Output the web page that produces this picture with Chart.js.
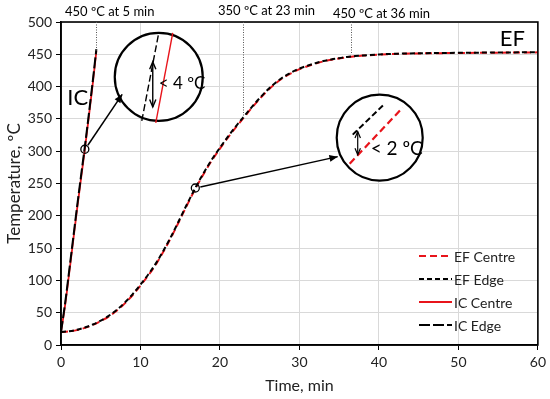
<!DOCTYPE html>
<html>
<head>
<meta charset="utf-8">
<script src="https://cdn.jsdelivr.net/npm/chart.js@4/dist/chart.umd.min.js"></script>
<style>
html,body{margin:0;padding:0;background:#fff;}
#wrap{width:550px;height:399px;}
</style>
</head>
<body>
<div id="wrap"><canvas id="c" width="550" height="399"></canvas></div>
<script>
// ---- data ----
const efTime    = [0, 1, 2, 3, 4, 5, 6, 7, 8, 9, 10, 11, 12, 13, 14, 15, 16, 17, 18, 19, 20, 21, 22, 23, 24, 25, 26, 27, 28, 29, 30, 31, 32, 33, 34, 35, 36, 37, 38, 40, 42, 45, 50, 55, 60];
const efCentre  = [20, 21, 23, 26.5, 31, 37, 44, 53, 64, 77, 92, 108, 126, 147, 170, 195, 220, 244, 266, 286, 304, 321, 337, 352, 367, 381, 394, 405, 414, 421, 427, 431.5, 435.5, 439, 441.5, 443.5, 445.5, 447, 448, 449.5, 450.5, 451.3, 452, 452.5, 453];
const efEdge    = [20, 21.3, 23.5, 27, 31.7, 37.8, 45, 54.2, 65.3, 78.5, 93.5, 109.5, 127.5, 148.5, 171.5, 196.5, 221.5, 245.5, 267.5, 287.5, 305.5, 322.5, 338.5, 353.5, 368.3, 382.2, 395, 406, 415, 422, 428, 432.3, 436.2, 439.6, 442, 444, 445.9, 447.3, 448.3, 449.8, 450.8, 451.6, 452.3, 452.8, 453.2];
const icTime    = [0, 0.5, 1, 1.5, 2, 2.5, 3, 3.5, 4, 4.45];
const icCentre  = [20, 60, 108, 158, 208, 256, 303, 353, 405, 455];
const icEdge    = [20, 63, 112, 162, 212, 260, 307, 357, 409, 458];
const markTime  = [3, 16.9];
const markTemp  = [303, 243];
const xTicks    = [0, 10, 20, 30, 40, 50, 60];
const yTicks    = [0, 50, 100, 150, 200, 250, 300, 350, 400, 450, 500];
const legendLabels = ['EF Centre', 'EF Edge', 'IC Centre', 'IC Edge'];
const refTimes  = [4.45, 22.9, 36.5];
const refTemps  = [455, 350, 450];
const refLabels = ['450 ºC at 5 min', '350 ºC at 23 min', '450 ºC at 36 min'];

const pts = (xs, ys) => xs.map((x, i) => ({x: x, y: ys[i]}));
const FONT = 'Lato, "Open Sans", sans-serif';

const datasets = [
  {label: legendLabels[0], data: pts(efTime, efCentre), borderColor: '#e8141b', borderWidth: 2, borderDash: [7, 4], order: 2},
  {label: legendLabels[1], data: pts(efTime, efEdge), borderColor: '#000', borderWidth: 2, borderDash: [5, 3], order: 1},
  {label: legendLabels[2], data: pts(icTime, icCentre), borderColor: '#e8141b', borderWidth: 1.8, borderDash: [], order: 2},
  {label: legendLabels[3], data: pts(icTime, icEdge), borderColor: '#000', borderWidth: 2, borderDash: [11, 3], order: 1},
  {label: 'marks', data: pts(markTime, markTemp), showLine: false, pointRadius: 4, pointStyle: 'circle',
   pointBorderColor: '#000', pointBackgroundColor: 'rgba(255,255,255,0)', pointBorderWidth: 1.3, order: 0}
];
datasets.forEach((d, i) => { if (i < 4) { d.pointRadius = 0; d.fill = false; d.cubicInterpolationMode = 'monotone'; } });

const deco = {
  id: 'deco',
  afterDatasetsDraw(chart) {
    const ctx = chart.ctx, xs = chart.scales.x, ys = chart.scales.y, a = chart.chartArea;
    const X = v => xs.getPixelForValue(v), Y = v => ys.getPixelForValue(v);
    ctx.save();
    // frame
    ctx.strokeStyle = '#000'; ctx.lineWidth = 1.6;
    ctx.strokeRect(a.left, a.top, a.right - a.left, a.bottom - a.top);
    // reference dotted lines & labels
    ctx.strokeStyle = '#555'; ctx.lineWidth = 1; ctx.setLineDash([1, 1.5]);
    refTimes.forEach((t, i) => {
      ctx.beginPath(); ctx.moveTo(Math.round(X(t)) + 0.5, a.top); ctx.lineTo(Math.round(X(t)) + 0.5, Y(refTemps[i])); ctx.stroke();
    });
    ctx.setLineDash([]);
    ctx.fillStyle = '#000'; ctx.font = '13px ' + FONT; ctx.textBaseline = 'middle'; ctx.textAlign = 'left';
    ctx.fillText(refLabels[0], 65, 12);
    ctx.fillText(refLabels[1], 218, 11);
    ctx.fillText(refLabels[2], 333, 14);
    // IC / EF labels
    ctx.font = '22px ' + FONT;
    ctx.fillText('IC', X(0.8), Y(382));
    ctx.fillText('EF', X(55.2), Y(474));
    // magnifier circles
    const circ = (t, v, r) => {
      ctx.beginPath(); ctx.arc(X(t), Y(v), r, 0, Math.PI * 2);
      ctx.fillStyle = '#fff'; ctx.fill();
      ctx.strokeStyle = '#000'; ctx.lineWidth = 2.2; ctx.stroke();
    };
    const seg = (x1, y1, x2, y2, color, w, dash) => {
      ctx.beginPath(); ctx.setLineDash(dash); ctx.strokeStyle = color; ctx.lineWidth = w;
      ctx.moveTo(x1, y1); ctx.lineTo(x2, y2); ctx.stroke(); ctx.setLineDash([]);
    };
    const head = (x1, y1, x2, y2, len, open) => {
      const ang = Math.atan2(y2 - y1, x2 - x1);
      ctx.beginPath();
      ctx.moveTo(x2 - len * Math.cos(ang - 0.4), y2 - len * Math.sin(ang - 0.4));
      ctx.lineTo(x2, y2);
      ctx.lineTo(x2 - len * Math.cos(ang + 0.4), y2 - len * Math.sin(ang + 0.4));
      if (!open) { ctx.closePath(); ctx.fillStyle = '#000'; ctx.fill(); } else { ctx.stroke(); }
    };
    // circle 1
    const c1x = X(12.3), c1y = Y(415);
    circ(12.3, 415, 44);
    seg(c1x - 17, c1y + 44, c1x + 0, c1y - 44, '#000', 1.4, [7, 3]);
    seg(c1x - 3, c1y + 46, c1x + 14, c1y - 44, '#e8141b', 1.4, []);
    ctx.strokeStyle = '#000'; ctx.lineWidth = 1.4;
    seg(c1x - 6, c1y - 15, c1x - 6, c1y + 30, '#000', 1.4, []);
    head(c1x - 6, c1y + 30, c1x - 6, c1y - 15, 8, true);
    head(c1x - 6, c1y - 15, c1x - 6, c1y + 30, 8, true);
    ctx.fillStyle = '#000'; ctx.font = '17px ' + FONT; ctx.textAlign = 'left'; ctx.textBaseline = 'middle';
    ctx.fillText('< 4 ºC', c1x, c1y + 7);
    // circle 2
    const c2x = X(40.1), c2y = Y(321);
    circ(40.1, 321, 43);
    seg(c2x - 27, c2y - 3, c2x + 4, c2y - 33, '#000', 2, [6, 3]);
    seg(c2x - 30, c2y + 26, c2x + 23, c2y - 30, '#e8141b', 2.2, [7, 4]);
    ctx.strokeStyle = '#000'; ctx.lineWidth = 1.2;
    seg(c2x - 22, c2y - 6, c2x - 22, c2y + 17, '#000', 1.2, []);
    head(c2x - 22, c2y + 17, c2x - 22, c2y - 6, 7, true);
    head(c2x - 22, c2y - 6, c2x - 22, c2y + 17, 7, true);
    ctx.fillStyle = '#000'; ctx.font = '19px ' + FONT;
    ctx.fillText('< 2 ºC', c2x - 9, c2y + 11);
    // arrows
    const ax1 = X(markTime[0]) + 3, ay1 = Y(markTemp[0]) - 4;
    seg(ax1, ay1, X(7.7), Y(388), '#000', 1.5, []);
    head(ax1, ay1, X(7.7), Y(388), 9, false);
    const ax2 = X(markTime[1]) + 5, ay2 = Y(markTemp[1]) - 1;
    seg(ax2, ay2, c2x - 42, c2y + 19, '#000', 1.5, []);
    head(ax2, ay2, c2x - 42, c2y + 19, 9, false);
    // legend
    const lx = 419, lw = 33;
    const ly = [256, 279, 302, 325];
    ctx.font = '14px ' + FONT; ctx.textBaseline = 'middle';
    for (let i = 0; i < 4; i++) {
      const d = chart.data.datasets[i];
      seg(lx, ly[i], lx + lw, ly[i], d.borderColor, 2, d.borderDash);
      ctx.fillStyle = '#222';
      ctx.fillText(d.label, lx + lw + 2, ly[i] + 1);
    }
    ctx.restore();
  }
};

new Chart(document.getElementById('c'), {
  type: 'line',
  data: {datasets: datasets},
  options: {
    responsive: false,
    animation: false,
    layout: {padding: {top: 22, right: 10, left: 0, bottom: 0}},
    plugins: {legend: {display: false}, tooltip: {enabled: false}},
    scales: {
      x: {
        type: 'linear', min: 0, max: 60,
        afterBuildTicks: s => { s.ticks = xTicks.map(v => ({value: v})); },
        afterFit: s => { s.height = 54; },
        grid: {color: '#d9d9d9', lineWidth: 1, tickColor: '#000', tickLength: 5, drawTicks: true},
        border: {color: '#000', width: 1.6},
        ticks: {color: '#222', font: {family: FONT, size: 14}, padding: 4, maxRotation: 0},
        title: {display: true, text: 'Time, min', color: '#222', font: {family: FONT, size: 16}, padding: {top: 4}}
      },
      y: {
        type: 'linear', min: 0, max: 500,
        afterBuildTicks: s => { s.ticks = yTicks.map(v => ({value: v})); },
        afterFit: s => { s.width = 61; },
        grid: {color: '#d9d9d9', lineWidth: 1, tickColor: '#000', tickLength: 5, drawTicks: true},
        border: {color: '#000', width: 1.6},
        ticks: {color: '#222', font: {family: FONT, size: 14}, padding: 4},
        title: {display: true, text: 'Temperature, ºC', color: '#222', font: {family: FONT, size: 17}, padding: {bottom: 1}}
      }
    }
  },
  plugins: [deco]
});
</script>
</body>
</html>
